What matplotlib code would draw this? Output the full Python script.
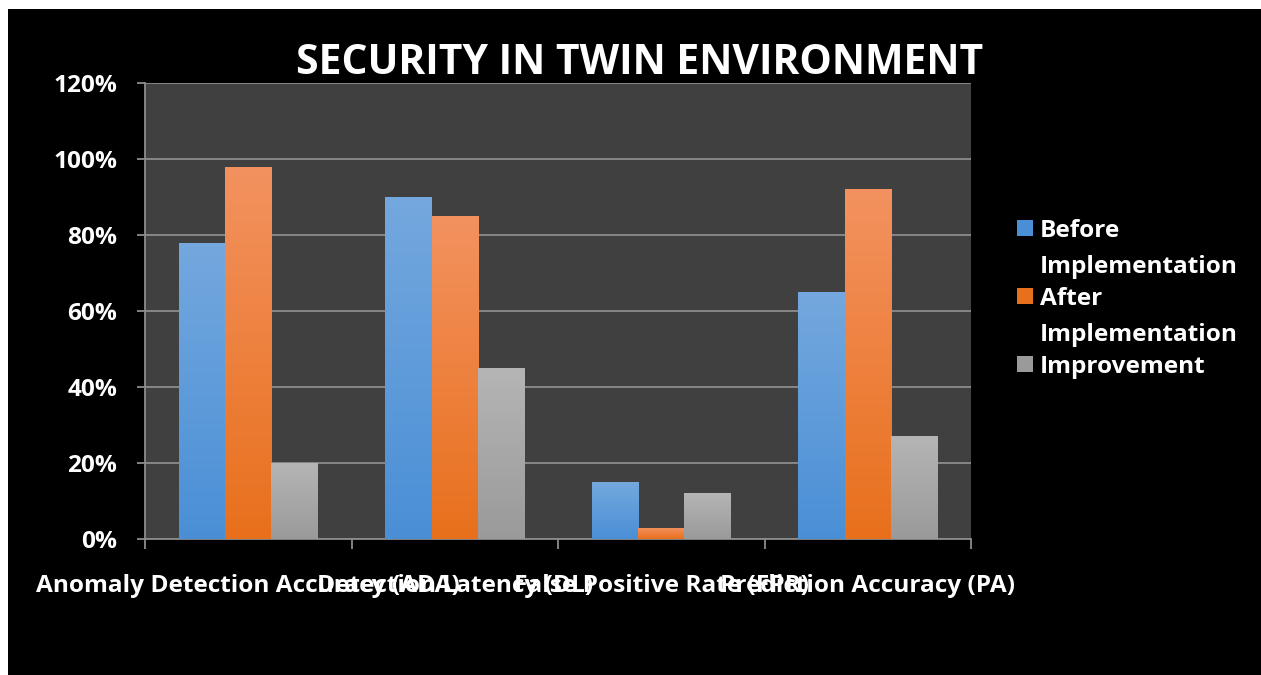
import numpy as np
import matplotlib
matplotlib.use("Agg")
import matplotlib.pyplot as plt
from matplotlib.patches import Rectangle
from matplotlib.colors import LinearSegmentedColormap

categories = ["Anomaly Detection Accuracy (ADA)", "Detection Latency (DL)",
              "False Positive Rate (FPR)", "Prediction Accuracy (PA)"]
series_names = ["Before Implementation", "After Implementation", "Improvement"]
legend_labels = ["Before\nImplementation", "After\nImplementation", "Improvement"]
before = [0.78, 0.90, 0.15, 0.65]
after = [0.98, 0.85, 0.03, 0.92]
improvement = [0.20, 0.45, 0.12, 0.27]
y_ticks = [0.0, 0.2, 0.4, 0.6, 0.8, 1.0, 1.2]
title = "SECURITY IN TWIN ENVIRONMENT"

series = [before, after, improvement]
grad_colors = [("#74A8DE", "#4A8FD6"), ("#F39260", "#E8701C"), ("#B5B5B5", "#9A9A9A")]

FONT = "Open Sans"
FS = 17.6
W, H = 1261, 675
fig = plt.figure(figsize=(W / 100, H / 100), dpi=100, facecolor="white")
fig.patches.append(Rectangle((8 / W, 0), 1 - 8 / W, 1 - 9 / H, transform=fig.transFigure,
                             facecolor="black", edgecolor="none", zorder=-10))

ax = fig.add_axes([145 / W, (H - 539) / H, 826 / W, (539 - 83) / H])
ax.set_facecolor("#404040")

x = np.arange(len(categories))
bw = 0.225
offsets = [-bw, 0, bw]
for vals, off, (ctop, cbot), name in zip(series, offsets, grad_colors, series_names):
    bars = ax.bar(x + off, vals, bw, color=cbot, label=name, zorder=3, linewidth=0)
    cmap = LinearSegmentedColormap.from_list("g", [cbot, ctop])
    for b in bars:
        bx, by = b.get_x(), b.get_y()
        bwid, bh = b.get_width(), b.get_height()
        grad = np.linspace(0, 1, 256).reshape(-1, 1)
        im = ax.imshow(grad, cmap=cmap, origin="lower", aspect="auto",
                       extent=(bx, bx + bwid, by, by + bh), zorder=4)
        im.set_clip_path(b)

ax.set_xlim(-0.5, len(categories) - 0.5)
ax.set_ylim(0, 1.2)
ax.set_yticks(y_ticks)
ax.set_yticklabels([f"{int(round(v * 100))}%" for v in y_ticks])
ax.yaxis.grid(True, color="#8C8C8C", linewidth=1.3, zorder=1)
ax.set_axisbelow(True)

ax.set_xticks(x)
ax.set_xticklabels(categories)
ax.set_xticks(np.arange(len(categories) + 1) - 0.5, minor=True)
ax.tick_params(axis="x", which="major", length=0, pad=25.5, labelcolor="white", labelsize=FS)
ax.tick_params(axis="x", which="minor", length=7, width=1.3, color="#8C8C8C", direction="out")
ax.tick_params(axis="y", length=6, width=1.3, color="#8C8C8C", direction="out", pad=14,
               labelcolor="white", labelsize=FS)
for lab in ax.get_xticklabels() + ax.get_yticklabels():
    lab.set_fontweight("bold")
    lab.set_fontfamily(FONT)

for s in ["top", "right"]:
    ax.spines[s].set_visible(False)
for s in ["left", "bottom"]:
    ax.spines[s].set_color("#8C8C8C")
    ax.spines[s].set_linewidth(1.3)

fig.text(640 / W, 1 - 74 / H, title, ha="center", va="baseline", color="white",
         fontsize=29.4, fontweight="bold", fontfamily=FONT)

# legend
leg_base = [237, 305, 373]
line_gap = 36
for (ctop, cbot), lab, yy in zip(grad_colors, legend_labels, leg_base):
    fig.patches.append(Rectangle((1017 / W, 1 - (yy - 1) / H), 16 / W, 16 / H,
                                 transform=fig.transFigure, facecolor=cbot, edgecolor="none"))
    nl = lab.count("\n")
    fig.text(1040 / W, 1 - (yy + line_gap * nl) / H, lab, ha="left", va="baseline",
             color="white", fontsize=FS, fontweight="bold", fontfamily=FONT,
             linespacing=1.64)

fig.savefig("out.png", dpi=100, facecolor="white")
